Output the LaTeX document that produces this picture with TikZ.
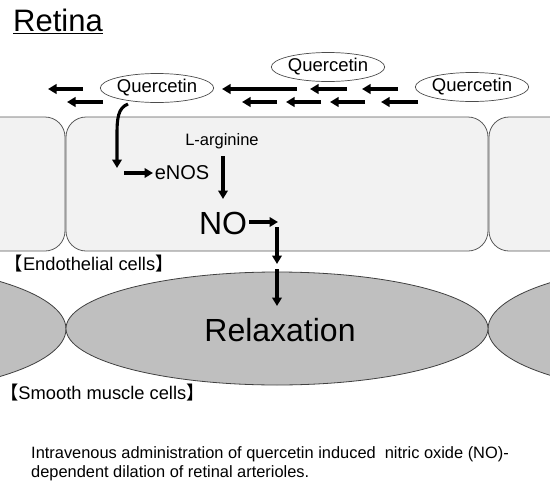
\documentclass[tikz,border=0pt]{standalone}
\usepackage{fontspec}
\setmainfont{Liberation Sans}
\newfontfamily\cjkfont{Noto Sans CJK JP}
\usetikzlibrary{arrows.meta,shapes.geometric}
\begin{document}
\begin{tikzpicture}[x=1pt,y=-1pt,
  endo/.style={draw=black!65,fill=black!5,line width=0.8pt,rounded corners=20pt},
  smc/.style={draw=black!75,fill=black!25,line width=0.8pt},
  qbox/.style={draw=black!70,line width=0.7pt,ellipse,minimum width=110pt,minimum height=29pt,inner sep=0pt,font=\fontsize{18.5}{20}\selectfont},
  arr/.style={line width=3.1pt,-{Triangle[length=8.5pt,width=9.5pt]}},
  lbl/.style={inner sep=0pt,font=\fontsize{18.3}{20}\selectfont},
]
\useasboundingbox (0,0) rectangle (550,485);
\begin{scope}
\clip (0,0) rectangle (550,485);
\draw[endo] (-100,117) rectangle (65,251);
\draw[endo] (66,117) rectangle (488,251);
\draw[endo] (489,117) rectangle (650,251);
\draw[smc] (-150,329) ellipse [x radius=216pt, y radius=66pt];
\draw[smc] (704,329) ellipse [x radius=216pt, y radius=66pt];
\draw[smc] (277,328.5) ellipse [x radius=211pt, y radius=56.5pt];
\end{scope}

\node[anchor=base west,inner sep=0pt,font=\fontsize{31}{33}\selectfont] (title) at (13,31) {\underline{Retina}};

\node[qbox] (q1) at (157,88) {Quercetin};
\node[qbox] (q2) at (328,67) {Quercetin};
\node[qbox] (q3) at (472,87) {Quercetin};

\foreach \a/\b in {83/48, 297/222, 347/310, 398/362}
  \draw[arr] (\a,89) -- (\b,89);
\foreach \a/\b in {103/67, 277/242, 321/286, 365/330, 418/381}
  \draw[arr] (\a,102) -- (\b,102);

\node[lbl,font=\fontsize{16.5}{20}\selectfont] (larg) at (222,141) {L-arginine};
\node[lbl,font=\fontsize{20}{22}\selectfont] (enos) at (182,172.5) {eNOS};
\node[lbl,font=\fontsize{32}{34}\selectfont] (no) at (223,223) {NO};
\node[anchor=base,inner sep=0pt,font=\fontsize{32}{34}\selectfont] (relax) at (280,341) {Relaxation};

\coordinate (qout) at (128,104);
\coordinate (bend) at (117,168);
\draw[arr] (qout) .. controls (118,108) and (117,118) .. (117,135) -- (bend);
\coordinate (enosin) at (153,173);
\draw[arr] (124,173) -- (enosin);
\draw[arr] (223,156) -- (223,199);
\coordinate (nocorner) at (278,222);
\draw[arr] (249,222) -- (nocorner);
\draw[arr] (277,227) -- (277,264);
\draw[arr] (277,269) -- (277,306);

\node[lbl,anchor=west] (endolbl) at (4.5,264) {{\cjkfont 【}Endothelial cells{\cjkfont 】}};
\node[lbl,anchor=west] (smclbl) at (0,393) {{\cjkfont 【}Smooth muscle cells{\cjkfont 】}};

\node[anchor=base west,inner sep=0pt,font=\fontsize{16.4}{19}\selectfont] (cap1) at (31,458) {Intravenous administration of quercetin induced~~nitric oxide (NO)-};
\node[anchor=base west,inner sep=0pt,font=\fontsize{16.4}{19}\selectfont] (cap2) at (31,477) {dependent dilation of retinal arterioles.};
\end{tikzpicture}
\end{document}
